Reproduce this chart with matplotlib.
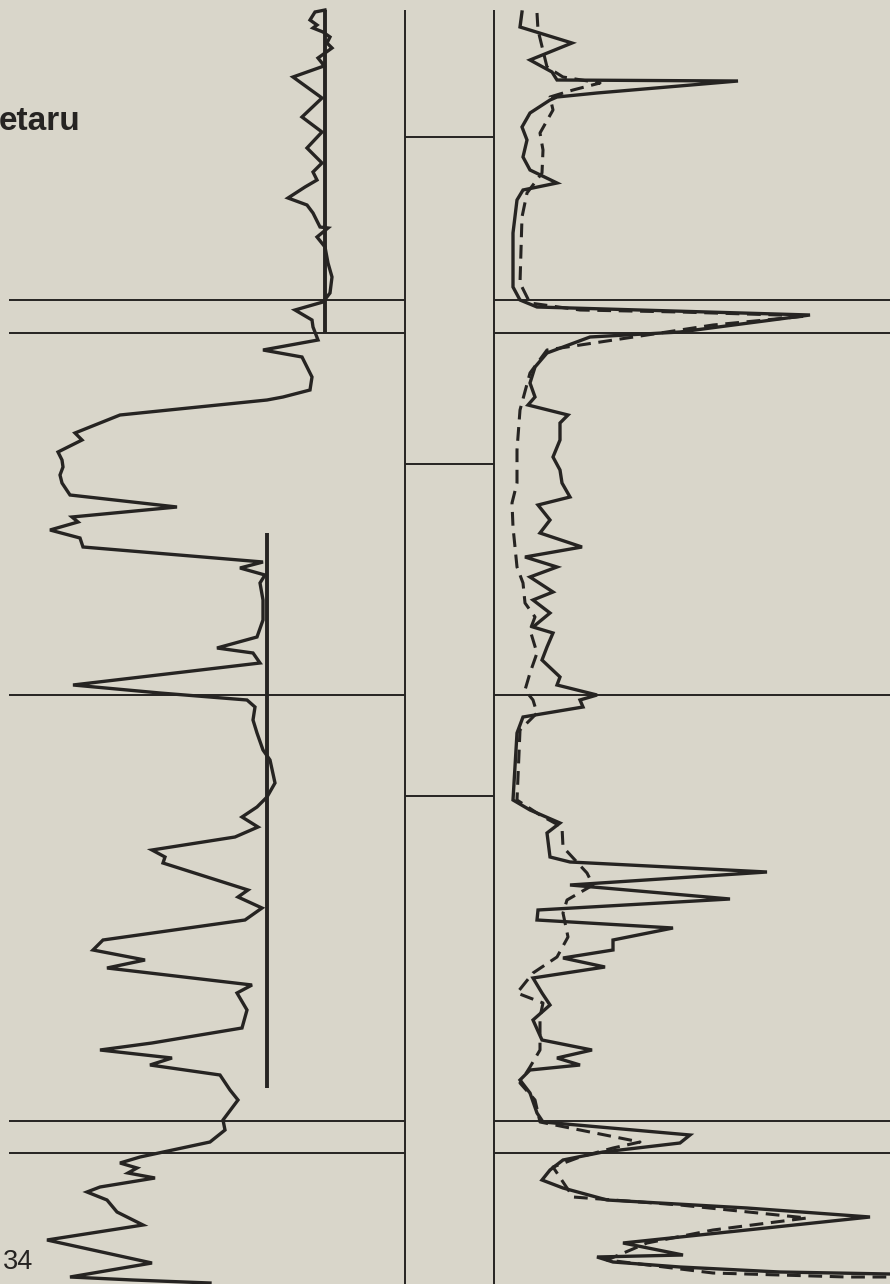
import matplotlib.pyplot as plt

# left track curve (depth in px-units from top, reading across track)
gr_depth = [10, 12, 20, 25, 28, 32, 37, 43, 48, 53, 58, 63, 66, 77, 98, 117, 132, 148, 163, 172,
            180, 187, 198, 205, 213, 227, 228, 237, 247, 263, 277, 293, 302, 310, 320, 327, 340,
            350, 357, 367, 377, 390, 397, 400, 415, 433, 440, 452, 460, 467, 475, 483, 495, 507,
            517, 522, 530, 538, 547, 562, 568, 575, 583, 600, 620, 637, 648, 653, 663, 685, 693,
            700, 707, 720, 733, 750, 760, 783, 797, 807, 817, 827, 837, 850, 857, 863, 890, 897,
            908, 920, 940, 950, 960, 968, 985, 993, 1010, 1028, 1043, 1050, 1058, 1065, 1075,
            1090, 1100, 1120, 1130, 1142, 1157, 1163, 1168, 1173, 1178, 1187, 1192, 1200, 1212,
            1225, 1240, 1263, 1277, 1280, 1283]
gr_val = [325, 315, 310, 317, 313, 323, 330, 327, 332, 325, 318, 322, 324, 293, 322, 302, 322, 307,
          322, 313, 317, 305, 288, 307, 313, 320, 328, 317, 325, 328, 332, 330, 323, 295, 312, 313,
          318, 263, 302, 307, 312, 310, 283, 267, 120, 75, 82, 58, 62, 63, 60, 62, 70, 177, 72, 78,
          50, 80, 83, 263, 240, 265, 260, 263, 263, 257, 217, 253, 260, 73, 160, 247, 255, 253,
          257, 263, 270, 275, 267, 257, 242, 258, 235, 152, 165, 163, 248, 238, 262, 245, 103, 93,
          145, 107, 252, 237, 247, 242, 152, 100, 172, 150, 220, 230, 238, 223, 225, 210, 140, 120,
          137, 128, 155, 100, 87, 107, 117, 143, 47, 152, 70, 133, 210]

# right track, solid curve
deep_depth = [12, 27, 43, 60, 72, 80, 81, 93, 97, 100, 113, 127, 140, 157, 170, 183, 190, 200, 233,
              287, 300, 307, 315, 332, 337, 353, 367, 383, 397, 405, 415, 423, 440, 457, 470, 483,
              497, 505, 520, 533, 547, 557, 567, 577, 592, 600, 613, 627, 633, 647, 660, 677, 685,
              695, 700, 707, 717, 733, 800, 810, 823, 833, 857, 862, 872, 885, 899, 910, 920, 928,
              940, 950, 958, 967, 978, 993, 1005, 1020, 1040, 1050, 1058, 1065, 1070, 1080, 1093,
              1113, 1122, 1135, 1143, 1152, 1160, 1170, 1180, 1188, 1200, 1208, 1217, 1230, 1243,
              1255, 1257, 1262, 1267, 1272, 1274]
deep_val = [522, 520, 572, 530, 552, 557, 738, 597, 557, 550, 530, 522, 527, 523, 530, 557, 523, 517,
            513, 513, 520, 537, 810, 680, 590, 547, 535, 530, 535, 528, 568, 560, 560, 553, 560, 562,
            570, 538, 550, 540, 582, 525, 557, 530, 553, 533, 550, 533, 553, 547, 542, 560, 557, 597,
            580, 583, 523, 517, 513, 530, 560, 547, 550, 570, 767, 570, 730, 538, 537, 673, 613, 613,
            563, 605, 533, 542, 550, 533, 542, 592, 557, 580, 530, 520, 530, 537, 543, 690, 680, 603,
            563, 550, 542, 563, 607, 747, 870, 747, 623, 683, 597, 613, 680, 780, 890]

# right track, dashed curve
shallow_depth = [13, 30, 67, 77, 83, 90, 97, 110, 133, 150, 173, 193, 217, 283, 303, 310, 312, 315,
                 316, 325, 335, 350, 373, 410, 450, 483, 503, 527, 567, 583, 603, 617, 630, 653, 673,
                 690, 700, 713, 730, 800, 815, 827, 847, 860, 873, 885, 900, 913, 937, 957, 973, 993,
                 1003, 1017, 1050, 1067, 1083, 1100, 1122, 1142, 1148, 1157, 1167, 1197, 1205, 1218,
                 1230, 1243, 1260, 1273, 1277, 1277]
shallow_val = [537, 538, 547, 563, 600, 573, 550, 553, 540, 543, 542, 527, 522, 520, 530, 580, 680,
               780, 807, 713, 647, 547, 530, 520, 517, 517, 512, 513, 517, 523, 525, 535, 530, 537,
               530, 525, 533, 537, 520, 517, 540, 562, 563, 575, 587, 593, 567, 563, 568, 557, 533,
               517, 543, 540, 540, 530, 520, 535, 540, 640, 613, 580, 553, 573, 680, 807, 713, 647,
               607, 713, 847, 890]

# baselines drawn in the left track: (x, top, bottom)
baselines = [(325, 10, 333), (267, 533, 1088)]
# bed boundaries across both tracks
bed_tops = [300, 333, 695, 1121, 1153]
# marks in the middle depth column
mid_marks = [137, 464, 796]

ink = '#262422'
paper = '#d9d6ca'

fig = plt.figure(figsize=(8.9, 12.84), dpi=100, facecolor=paper)
ax = fig.add_axes([0, 0, 1, 1])
ax.set_facecolor(paper)
ax.set_xlim(0, 890)
ax.set_ylim(1284, 0)
ax.axis('off')

# track frame
ax.vlines([405, 494], 10, 1284, color=ink, lw=1.4)
ax.hlines(bed_tops, 9, 405, color=ink, lw=1.4)
ax.hlines(bed_tops, 494, 890, color=ink, lw=1.4)
ax.hlines(mid_marks, 405, 494, color=ink, lw=1.4)

for x, y0, y1 in baselines:
    ax.vlines(x, y0, y1, color=ink, lw=2.8)

ax.plot(gr_val, gr_depth, color=ink, lw=2.4, solid_joinstyle='miter')
ax.plot(deep_val, deep_depth, color=ink, lw=2.4, solid_joinstyle='miter')
ax.plot(shallow_val, shallow_depth, color=ink, lw=2.2, dashes=(4.5, 2.5))

ax.text(-1, 130, 'etaru', fontsize=24, fontweight='bold', family='Liberation Sans',
        color=ink, ha='left', va='baseline')
ax.text(3, 1269, '34', fontsize=19.5, family='Liberation Sans', color=ink,
        ha='left', va='baseline')

fig.savefig('out.png', dpi=100, facecolor=paper)
